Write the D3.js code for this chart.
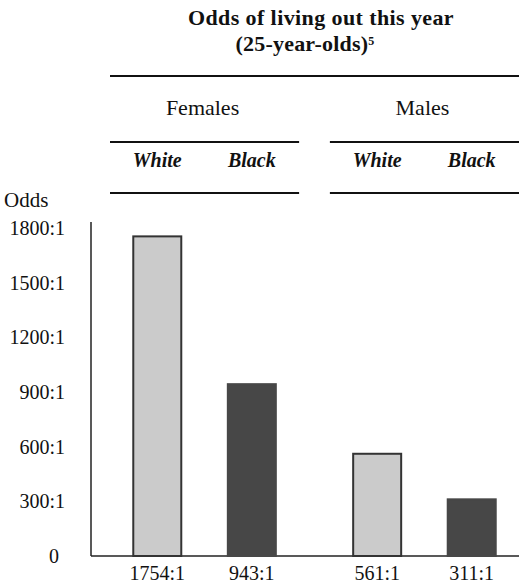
<!DOCTYPE html>
<html>
<head>
<meta charset="utf-8">
<script src="https://cdn.jsdelivr.net/npm/d3@7"></script>
<style>
  body { margin: 0; background: #fff; }
  svg text { font-family: "Liberation Serif", "Times New Roman", serif; fill: #111; }
</style>
</head>
<body>
<div id="chart"></div>
<script>
// data
var groups = ["Females", "Males"];
var races = ["White", "Black"];
var values = [1754, 943, 561, 311];   // female white, female black, male white, male black
var valueLabels = ["1754:1", "943:1", "561:1", "311:1"];
var yTicks = [0, 300, 600, 900, 1200, 1500, 1800];

var width = 519, height = 585;

var svg = d3.select("#chart")
  .append("svg")
    .attr("width", width)
    .attr("height", height);

// title
svg.append("text")
    .attr("x", 321)
    .attr("y", 25)
    .attr("text-anchor", "middle")
    .style("font-weight", "bold")
    .style("font-size", "22px")
    .style("letter-spacing", "0.4px")
    .text("Odds of living out this year");
var t2 = svg.append("text")
    .attr("x", 305)
    .attr("y", 51)
    .attr("text-anchor", "middle")
    .style("font-weight", "bold")
    .style("font-size", "22px")
    .style("letter-spacing", "0.2px")
    .text("(25-year-olds)");
t2.append("tspan")
    .attr("dy", -6)
    .style("font-size", "12px")
    .text("5");

// scales
var x0 = d3.scaleBand()
  .domain(groups)
  .range([110, 519])
  .paddingInner(0.14);

var x1 = d3.scalePoint()
  .domain(races)
  .range([0, x0.bandwidth()])
  .padding(0.5);

var y = d3.scaleLinear()
  .domain([0, 1800])
  .range([556, 228]);

var barW = 48;

// header rules
svg.append("line")
    .attr("x1", x0.range()[0]).attr("x2", x0.range()[1])
    .attr("y1", 76).attr("y2", 76)
    .attr("stroke", "#111").attr("stroke-width", 2);

groups.forEach(function(g) {
  [142, 193].forEach(function(yy) {
    svg.append("line")
        .attr("x1", x0(g)).attr("x2", x0(g) + x0.bandwidth())
        .attr("y1", yy).attr("y2", yy)
        .attr("stroke", "#111").attr("stroke-width", 2);
  });
  svg.append("text")
      .attr("x", x0(g) + x0.bandwidth() / 2 - 2)
      .attr("y", 115)
      .attr("text-anchor", "middle")
      .style("font-size", "22px")
      .text(g);
  races.forEach(function(r) {
    svg.append("text")
        .attr("x", x0(g) + x1(r))
        .attr("y", 167)
        .attr("text-anchor", "middle")
        .style("font-size", "20px")
        .style("font-style", "italic")
        .style("font-weight", "bold")
        .text(r);
  });
});

// Y axis
svg.append("g")
    .attr("transform", "translate(65,0)")
    .call(d3.axisLeft(y).tickValues(yTicks).tickSize(0).tickPadding(0)
      .tickFormat(function(d) { return d === 0 ? "0" : d + ":1"; }))
    .call(function(g) { g.select(".domain").remove(); })
    .selectAll("text")
      .style("font-size", "20px")
      .style("fill", "#111")
      .attr("dx", function(d) { return d === 0 ? -6 : 0; });

svg.append("text")
    .attr("x", 4)
    .attr("y", 207)
    .style("font-size", "21px")
    .text("Odds");

// axis lines
svg.append("line")
    .attr("x1", 91).attr("x2", 91)
    .attr("y1", y(1800) - 6).attr("y2", y(0))
    .attr("stroke", "#222").attr("stroke-width", 1.5);
svg.append("line")
    .attr("x1", 91).attr("x2", width)
    .attr("y1", y(0)).attr("y2", y(0))
    .attr("stroke", "#222").attr("stroke-width", 1.5);

// bars
var bars = [];
groups.forEach(function(g, gi) {
  races.forEach(function(r, ri) {
    var i = gi * 2 + ri;
    bars.push({group: g, race: r, value: values[i], label: valueLabels[i]});
  });
});

svg.append("g")
  .selectAll("rect")
  .data(bars)
  .enter()
  .append("rect")
    .attr("x", function(d) { return x0(d.group) + x1(d.race) - barW / 2; })
    .attr("y", function(d) { return y(d.value); })
    .attr("width", barW)
    .attr("height", function(d) { return y(0) - y(d.value); })
    .attr("fill", function(d) { return d.race === "White" ? "#cbcbcb" : "#474747"; })
    .attr("stroke", function(d) { return d.race === "White" ? "#333" : "#474747"; })
    .attr("stroke-width", 2);

// value labels
svg.append("g")
  .selectAll("text")
  .data(bars)
  .enter()
  .append("text")
    .attr("x", function(d) { return x0(d.group) + x1(d.race); })
    .attr("y", 580)
    .attr("text-anchor", "middle")
    .style("font-size", "20px")
    .text(function(d) { return d.label; });
</script>
</body>
</html>
